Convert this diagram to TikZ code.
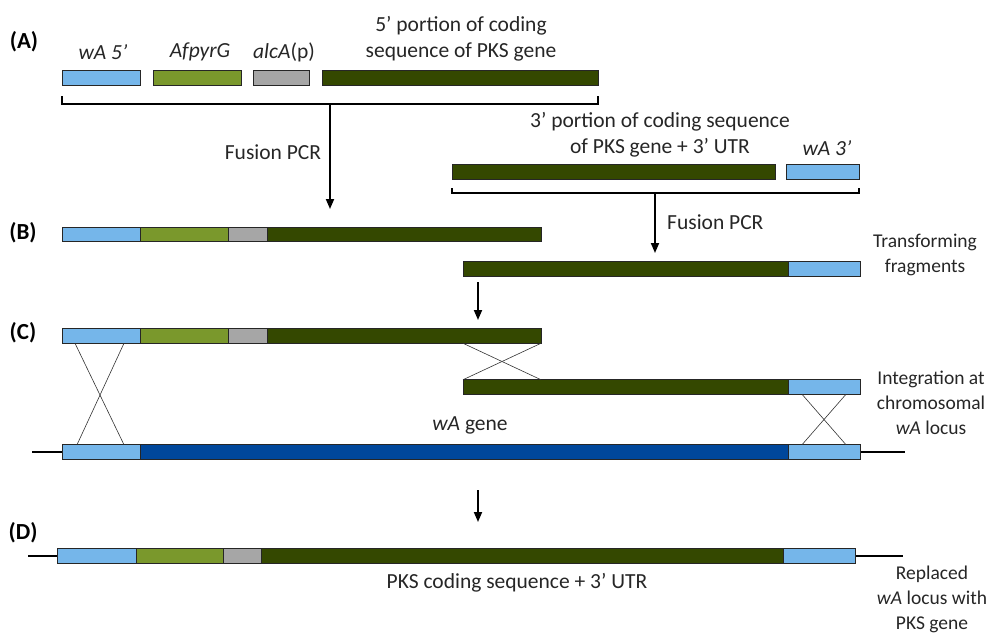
\documentclass[tikz,border=0pt]{standalone}
\usepackage{fontspec}
\setmainfont{Carlito}
\usetikzlibrary{calc,arrows.meta}
\definecolor{cLB}{RGB}{117,182,234}
\definecolor{cOG}{RGB}{122,152,44}
\definecolor{cGR}{RGB}{166,166,166}
\definecolor{cDG}{RGB}{52,72,0}
\definecolor{cDB}{RGB}{0,71,155}
\newcommand\segbox[5]{\node[seg, fill=#5, minimum width={#3-#2}, anchor=west] (#1) at (#2,#4) {};}
\begin{document}
\begin{tikzpicture}[x=1pt,y=-1pt,
  seg/.style={draw=black!85, line width=0.8pt, inner sep=0pt, outer sep=0pt, minimum height=14.5pt},
  lab/.style={font=\fontsize{21.5}{26}\selectfont, align=center, inner sep=0pt, text=black!85},
  slab/.style={font=\fontsize{19.5}{25}\selectfont, align=center, inner sep=0pt, text=black!85},
  plab/.style={font=\fontsize{23}{26}\selectfont\bfseries, inner sep=0pt},
  arr/.style={-{Triangle[length=10pt,width=8pt]}, line width=1.8pt},
  brace/.style={line width=1.6pt},
  chrom/.style={line width=2.6pt},
  xline/.style={line width=0.6pt, draw=black!80}]
\useasboundingbox (0,0) rectangle (994,633);
% ---- (A)
\node[plab] (pA) at (24,42) {(A)};
\segbox{a1}{62}{140}{78}{cLB}
\segbox{a2}{153}{241}{78}{cOG}
\segbox{a3}{253}{309}{78}{cGR}
\segbox{a4}{322}{598}{78}{cDG}
\node[lab] (la1) at (103,52) {\textit{wA 5’}};
\node[lab] (la2) at (200,52) {\textit{AfpyrG}};
\node[lab] (la3) at (284,52) {\textit{alcA}(p)};
\node[lab] (la4) at (461,39) {5’ portion of coding\\sequence of PKS gene};
\draw[brace] ($(a1.south west)+(0,11)$) -- ++(0,8) -| ($(a4.south east)+(0,11)$);
\coordinate (sA) at (330,105);
\coordinate (tA) at (330,209);
\draw[arr] (sA) -- (tA);
\node[lab] (fp1) at (273,152) {Fusion PCR};
% ---- right top
\node[lab] (lr1) at (660,135) {3’ portion of coding sequence\\of PKS gene + 3’ UTR};
\node[lab] (lr2) at (827,148) {\textit{wA 3’}};
\segbox{r1}{452}{775}{172}{cDG}
\segbox{r2}{786}{859}{172}{cLB}
\draw[brace] ($(r1.south west)+(0,9)$) -- ++(0,5) -| ($(r2.south east)+(0,9)$);
\coordinate (sR) at (655,193);
\coordinate (tR) at (655,253);
\draw[arr] (sR) -- (tR);
\node[lab, anchor=west] (fp2) at (667,222) {Fusion PCR};
% ---- (B)
\node[plab] (pB) at (23,233) {(B)};
\segbox{b1}{62}{140}{234.5}{cLB}
\segbox{b2}{140}{228}{234.5}{cOG}
\segbox{b3}{228}{267}{234.5}{cGR}
\segbox{b4}{267}{541}{234.5}{cDG}
\segbox{b5}{463}{788}{269}{cDG}
\segbox{b6}{788}{860}{269}{cLB}
\node[slab] (tf) at (925,255) {Transforming\\fragments};
\coordinate (sB) at (478,282);
\coordinate (tB) at (478,320);
\draw[arr] (sB) -- (tB);
% ---- (C)
\node[plab] (pC) at (23,333) {(C)};
\segbox{c1}{62}{140}{336}{cLB}
\segbox{c2}{140}{228}{336}{cOG}
\segbox{c3}{228}{267}{336}{cGR}
\segbox{c4}{267}{541}{336}{cDG}
\segbox{c5}{463}{788}{387}{cDG}
\segbox{c6}{788}{860}{387}{cLB}
\coordinate (chL) at (32,452);
\coordinate (chR) at (905,452);
\draw[chrom] (chL) -- (chR);
\segbox{k1}{62}{140}{452}{cLB}
\segbox{k2}{140}{788}{452}{cDB}
\segbox{k3}{788}{860}{452}{cLB}
\draw[xline] (c5.north west |- c4.south east) -- (c4.south east |- c5.north west);
\draw[xline] (c4.south east) -- (c5.north west);
\draw[xline] ($(c1.south west)+(13,0)$) -- ($(k1.north west)+(62,0)$);
\draw[xline] ($(c1.south west)+(62,0)$) -- ($(k1.north west)+(15,0)$);
\draw[xline] ($(c6.south west)+(14,0)$) -- ($(k3.north west)+(58,0)$);
\draw[xline] ($(c6.south west)+(58,0)$) -- ($(k3.north west)+(14,0)$);
\node[lab] (wg) at (470,425) {\textit{wA} gene};
\node[slab] (ic) at (931,403) {Integration at\\chromosomal\\\textit{wA} locus};
\coordinate (sC) at (478,490);
\coordinate (tC) at (478,522);
\draw[arr] (sC) -- (tC);
% ---- (D)
\node[plab] (pD) at (23,533) {(D)};
\coordinate (dL) at (28,556);
\coordinate (dR) at (903,556);
\draw[chrom] (dL) -- (dR);
\segbox{e1}{57}{136}{556}{cLB}
\segbox{e2}{136}{223}{556}{cOG}
\segbox{e3}{223}{261}{556}{cGR}
\segbox{e4}{261}{783}{556}{cDG}
\segbox{e5}{783}{855}{556}{cLB}
\node[lab] (pk) at (517,583) {PKS coding sequence + 3’ UTR};
\node[slab, anchor=north] (rp) at (932,566) {Replaced\\\textit{wA} locus with\\PKS gene};
\end{tikzpicture}
\end{document}
